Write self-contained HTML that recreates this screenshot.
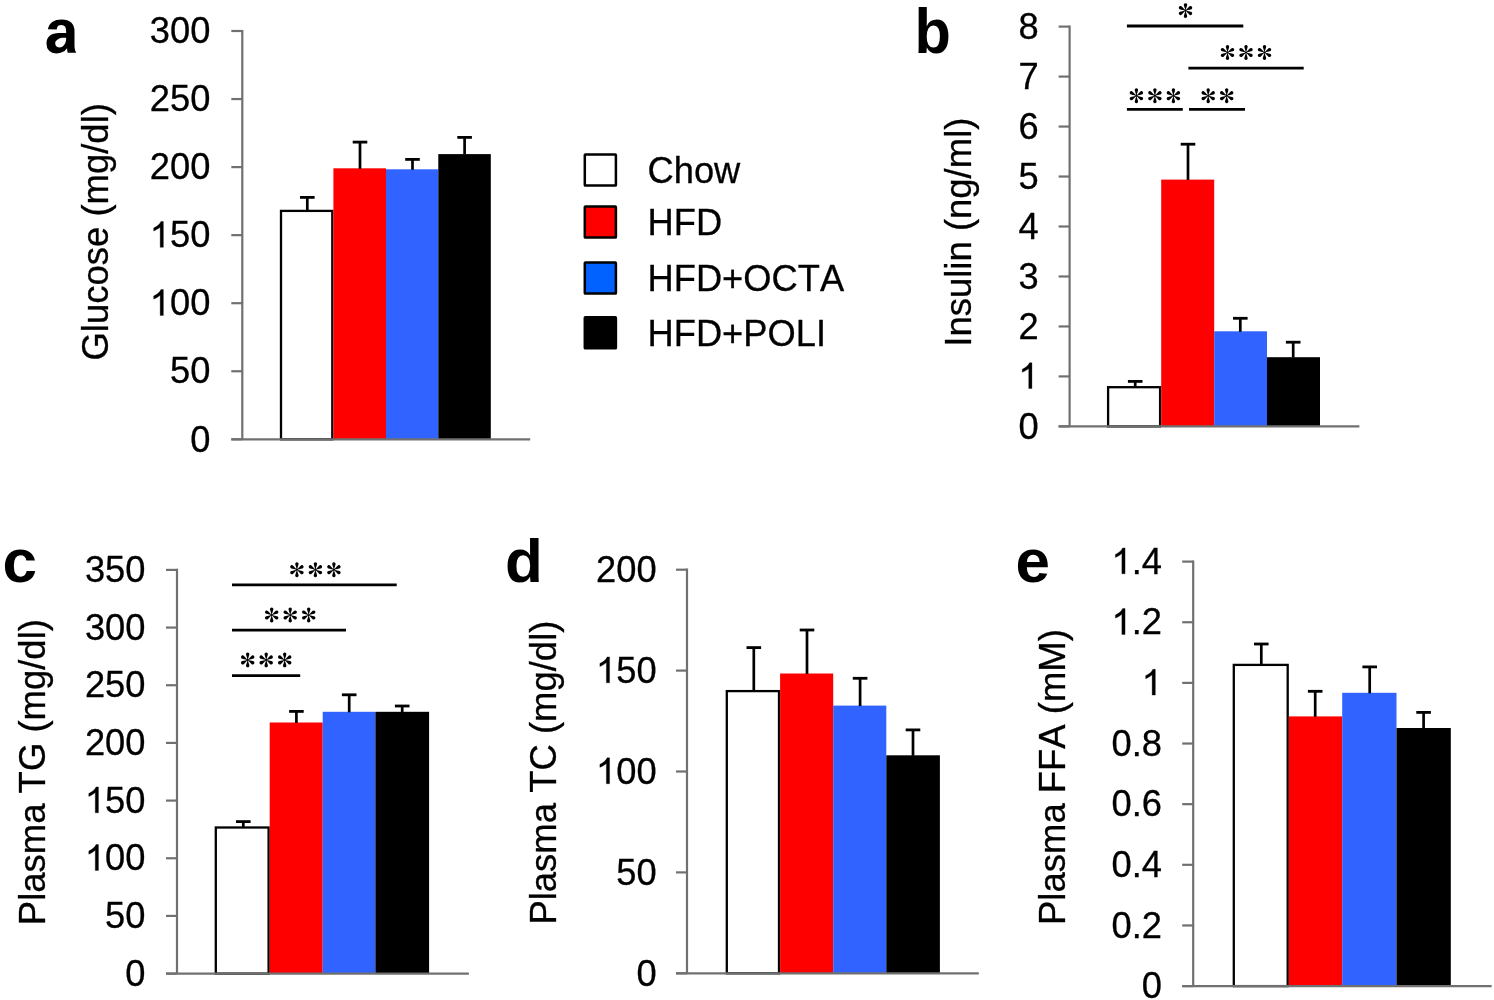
<!DOCTYPE html>
<html><head><meta charset="utf-8"><style>
html,body{margin:0;padding:0;background:#fff;}
svg{display:block;}
text{filter:grayscale(1);}
.t{font-family:"Liberation Sans", sans-serif;font-size:36.3px;fill:#000;stroke:#000;stroke-width:0.3px;font-kerning:none;}
.L{font-family:"Liberation Sans", sans-serif;font-size:62px;font-weight:bold;fill:#000;}
</style></head><body>
<svg width="1494" height="1000" viewBox="0 0 1494 1000">
<defs>
<g id="ast">
<path id="pet" d="M0,0 L-1.6,-5.2 A1.7,1.7 0 1,1 1.6,-5.2 Z" fill="#000"/>
<use href="#pet" transform="rotate(60)"/>
<use href="#pet" transform="rotate(120)"/>
<use href="#pet" transform="rotate(180)"/>
<use href="#pet" transform="rotate(240)"/>
<use href="#pet" transform="rotate(300)"/>
<circle r="1.1" fill="#000"/>
</g>
</defs>
<rect width="1494" height="1000" fill="#fff"/>
<line x1="242.3" y1="29.9" x2="242.3" y2="439.3" stroke="#707070" stroke-width="2.2"/>
<line x1="231.3" y1="439.30" x2="242.3" y2="439.30" stroke="#707070" stroke-width="2.2"/>
<g transform="translate(210.40,451.50) scale(1,1.035)"><text x="0" y="0" text-anchor="end" class="t" style="font-size:36.3px">0</text></g>
<line x1="231.3" y1="371.25" x2="242.3" y2="371.25" stroke="#707070" stroke-width="2.2"/>
<g transform="translate(210.40,383.45) scale(1,1.035)"><text x="0" y="0" text-anchor="end" class="t" style="font-size:36.3px">50</text></g>
<line x1="231.3" y1="303.20" x2="242.3" y2="303.20" stroke="#707070" stroke-width="2.2"/>
<g transform="translate(210.40,315.40) scale(1,1.035)"><text x="0" y="0" text-anchor="end" class="t" style="font-size:36.3px"> 00</text><path d="M763,0 L583,0 L583,1102 Q518,1043 410,981 Q303,921 217,890 L217,1057 Q372,1127 480,1221 Q589,1314 624,1409 L763,1409 Z" stroke="#000" stroke-width="17" transform="translate(-60.56,0) scale(0.017725,-0.017725)"/></g>
<line x1="231.3" y1="235.15" x2="242.3" y2="235.15" stroke="#707070" stroke-width="2.2"/>
<g transform="translate(210.40,247.35) scale(1,1.035)"><text x="0" y="0" text-anchor="end" class="t" style="font-size:36.3px"> 50</text><path d="M763,0 L583,0 L583,1102 Q518,1043 410,981 Q303,921 217,890 L217,1057 Q372,1127 480,1221 Q589,1314 624,1409 L763,1409 Z" stroke="#000" stroke-width="17" transform="translate(-60.56,0) scale(0.017725,-0.017725)"/></g>
<line x1="231.3" y1="167.10" x2="242.3" y2="167.10" stroke="#707070" stroke-width="2.2"/>
<g transform="translate(210.40,179.30) scale(1,1.035)"><text x="0" y="0" text-anchor="end" class="t" style="font-size:36.3px">200</text></g>
<line x1="231.3" y1="99.05" x2="242.3" y2="99.05" stroke="#707070" stroke-width="2.2"/>
<g transform="translate(210.40,111.25) scale(1,1.035)"><text x="0" y="0" text-anchor="end" class="t" style="font-size:36.3px">250</text></g>
<line x1="231.3" y1="31.00" x2="242.3" y2="31.00" stroke="#707070" stroke-width="2.2"/>
<g transform="translate(210.40,43.20) scale(1,1.035)"><text x="0" y="0" text-anchor="end" class="t" style="font-size:36.3px">300</text></g>
<rect x="281.00" y="210.90" width="51.30" height="228.40" fill="#fff" stroke="#000" stroke-width="2.3"/>
<rect x="333.40" y="168.30" width="52.60" height="271.00" fill="#ff0000"/>
<rect x="386.00" y="169.30" width="52.30" height="270.00" fill="#3063ff"/>
<rect x="438.30" y="154.10" width="52.50" height="285.20" fill="#000"/>
<line x1="307.30" y1="197.40" x2="307.30" y2="211.40" stroke="#000" stroke-width="2.7"/>
<line x1="300.00" y1="197.40" x2="314.60" y2="197.40" stroke="#000" stroke-width="2.8"/>
<line x1="360.00" y1="142.10" x2="360.00" y2="168.80" stroke="#000" stroke-width="2.7"/>
<line x1="352.70" y1="142.10" x2="367.30" y2="142.10" stroke="#000" stroke-width="2.8"/>
<line x1="412.50" y1="159.40" x2="412.50" y2="169.80" stroke="#000" stroke-width="2.7"/>
<line x1="405.20" y1="159.40" x2="419.80" y2="159.40" stroke="#000" stroke-width="2.8"/>
<line x1="464.60" y1="137.40" x2="464.60" y2="154.60" stroke="#000" stroke-width="2.7"/>
<line x1="457.30" y1="137.40" x2="471.90" y2="137.40" stroke="#000" stroke-width="2.8"/>
<line x1="231.3" y1="439.3" x2="530.2" y2="439.3" stroke="#707070" stroke-width="2.2"/>
<text transform="translate(108,103.1) rotate(-90) scale(1.005,1.02)" text-anchor="end" class="t">Glucose (mg/dl)</text>
<path d="M393,-20 Q236,-20 148,65.5 Q60,151 60,306 Q60,474 169.5,562 Q279,650 487,652 L720,656 L720,711 Q720,817 683,868.5 Q646,920 562,920 Q484,920 447.5,884.5 Q411,849 402,767 L109,781 Q136,939 253.5,1020.5 Q371,1102 574,1102 Q779,1102 890,1001 Q1001,900 1001,714 L1001,250 Q1001,140 1025,70 L1062,0 L772,0 Q757,45 752,150 Q631,-20 393,-20 Z M720,501 L576,499 Q478,495 415.5,424 Q353,388 353,328 Q353,251 388.5,213.5 Q424,176 483,176 Q549,176 603.5,212 Q658,248 689,311.5 Q720,375 720,446 Z" transform="translate(44.7,52.8) scale(0.029759,-0.030273)"/>
<line x1="1069.6" y1="25.5" x2="1069.6" y2="426.4" stroke="#707070" stroke-width="2.2"/>
<line x1="1058.6" y1="426.40" x2="1069.6" y2="426.40" stroke="#707070" stroke-width="2.2"/>
<g transform="translate(1038.60,438.60) scale(1,1.035)"><text x="0" y="0" text-anchor="end" class="t" style="font-size:36.3px">0</text></g>
<line x1="1058.6" y1="376.42" x2="1069.6" y2="376.42" stroke="#707070" stroke-width="2.2"/>
<g transform="translate(1038.60,388.62) scale(1,1.035)"><text x="0" y="0" text-anchor="end" class="t" style="font-size:36.3px"> </text><path d="M763,0 L583,0 L583,1102 Q518,1043 410,981 Q303,921 217,890 L217,1057 Q372,1127 480,1221 Q589,1314 624,1409 L763,1409 Z" stroke="#000" stroke-width="17" transform="translate(-20.19,0) scale(0.017725,-0.017725)"/></g>
<line x1="1058.6" y1="326.45" x2="1069.6" y2="326.45" stroke="#707070" stroke-width="2.2"/>
<g transform="translate(1038.60,338.65) scale(1,1.035)"><text x="0" y="0" text-anchor="end" class="t" style="font-size:36.3px">2</text></g>
<line x1="1058.6" y1="276.48" x2="1069.6" y2="276.48" stroke="#707070" stroke-width="2.2"/>
<g transform="translate(1038.60,288.68) scale(1,1.035)"><text x="0" y="0" text-anchor="end" class="t" style="font-size:36.3px">3</text></g>
<line x1="1058.6" y1="226.50" x2="1069.6" y2="226.50" stroke="#707070" stroke-width="2.2"/>
<g transform="translate(1038.60,238.70) scale(1,1.035)"><text x="0" y="0" text-anchor="end" class="t" style="font-size:36.3px">4</text></g>
<line x1="1058.6" y1="176.53" x2="1069.6" y2="176.53" stroke="#707070" stroke-width="2.2"/>
<g transform="translate(1038.60,188.72) scale(1,1.035)"><text x="0" y="0" text-anchor="end" class="t" style="font-size:36.3px">5</text></g>
<line x1="1058.6" y1="126.55" x2="1069.6" y2="126.55" stroke="#707070" stroke-width="2.2"/>
<g transform="translate(1038.60,138.75) scale(1,1.035)"><text x="0" y="0" text-anchor="end" class="t" style="font-size:36.3px">6</text></g>
<line x1="1058.6" y1="76.58" x2="1069.6" y2="76.58" stroke="#707070" stroke-width="2.2"/>
<g transform="translate(1038.60,88.78) scale(1,1.035)"><text x="0" y="0" text-anchor="end" class="t" style="font-size:36.3px">7</text></g>
<line x1="1058.6" y1="26.60" x2="1069.6" y2="26.60" stroke="#707070" stroke-width="2.2"/>
<g transform="translate(1038.60,38.80) scale(1,1.035)"><text x="0" y="0" text-anchor="end" class="t" style="font-size:36.3px">8</text></g>
<rect x="1108.10" y="387.20" width="52.00" height="39.20" fill="#fff" stroke="#000" stroke-width="2.3"/>
<rect x="1161.20" y="179.60" width="53.00" height="246.80" fill="#ff0000"/>
<rect x="1214.20" y="331.30" width="52.80" height="95.10" fill="#3063ff"/>
<rect x="1267.00" y="357.20" width="53.00" height="69.20" fill="#000"/>
<line x1="1135.20" y1="381.40" x2="1135.20" y2="387.70" stroke="#000" stroke-width="2.7"/>
<line x1="1127.90" y1="381.40" x2="1142.50" y2="381.40" stroke="#000" stroke-width="2.8"/>
<line x1="1188.00" y1="144.20" x2="1188.00" y2="180.10" stroke="#000" stroke-width="2.7"/>
<line x1="1180.70" y1="144.20" x2="1195.30" y2="144.20" stroke="#000" stroke-width="2.8"/>
<line x1="1240.30" y1="318.30" x2="1240.30" y2="331.80" stroke="#000" stroke-width="2.7"/>
<line x1="1233.00" y1="318.30" x2="1247.60" y2="318.30" stroke="#000" stroke-width="2.8"/>
<line x1="1293.20" y1="342.20" x2="1293.20" y2="357.70" stroke="#000" stroke-width="2.7"/>
<line x1="1285.90" y1="342.20" x2="1300.50" y2="342.20" stroke="#000" stroke-width="2.8"/>
<line x1="1058.6" y1="426.4" x2="1359.4" y2="426.4" stroke="#707070" stroke-width="2.2"/>
<text transform="translate(971,117.6) rotate(-90) scale(1.005,1.02)" text-anchor="end" class="t">Insulin (ng/ml)</text>
<text transform="translate(914.5,52.5) scale(0.96,1)" class="L">b</text>
<line x1="1126.9" y1="26" x2="1243.3" y2="26" stroke="#000" stroke-width="2.8"/>
<use href="#ast" x="1185.50" y="10.60"/>
<line x1="1188.4" y1="68.2" x2="1303.7" y2="68.2" stroke="#000" stroke-width="2.8"/>
<use href="#ast" x="1227.50" y="52.50"/>
<use href="#ast" x="1246.00" y="52.50"/>
<use href="#ast" x="1264.50" y="52.50"/>
<line x1="1126.9" y1="109.4" x2="1182.8" y2="109.4" stroke="#000" stroke-width="2.8"/>
<use href="#ast" x="1136.40" y="95.70"/>
<use href="#ast" x="1154.90" y="95.70"/>
<use href="#ast" x="1173.40" y="95.70"/>
<line x1="1189" y1="109.4" x2="1245" y2="109.4" stroke="#000" stroke-width="2.8"/>
<use href="#ast" x="1208.20" y="95.70"/>
<use href="#ast" x="1226.70" y="95.70"/>
<line x1="177" y1="568.8" x2="177" y2="973.6" stroke="#707070" stroke-width="2.2"/>
<line x1="166" y1="973.60" x2="177" y2="973.60" stroke="#707070" stroke-width="2.2"/>
<g transform="translate(145.50,985.80) scale(1,1.035)"><text x="0" y="0" text-anchor="end" class="t" style="font-size:36.3px">0</text></g>
<line x1="166" y1="915.93" x2="177" y2="915.93" stroke="#707070" stroke-width="2.2"/>
<g transform="translate(145.50,928.13) scale(1,1.035)"><text x="0" y="0" text-anchor="end" class="t" style="font-size:36.3px">50</text></g>
<line x1="166" y1="858.26" x2="177" y2="858.26" stroke="#707070" stroke-width="2.2"/>
<g transform="translate(145.50,870.46) scale(1,1.035)"><text x="0" y="0" text-anchor="end" class="t" style="font-size:36.3px"> 00</text><path d="M763,0 L583,0 L583,1102 Q518,1043 410,981 Q303,921 217,890 L217,1057 Q372,1127 480,1221 Q589,1314 624,1409 L763,1409 Z" stroke="#000" stroke-width="17" transform="translate(-60.56,0) scale(0.017725,-0.017725)"/></g>
<line x1="166" y1="800.59" x2="177" y2="800.59" stroke="#707070" stroke-width="2.2"/>
<g transform="translate(145.50,812.79) scale(1,1.035)"><text x="0" y="0" text-anchor="end" class="t" style="font-size:36.3px"> 50</text><path d="M763,0 L583,0 L583,1102 Q518,1043 410,981 Q303,921 217,890 L217,1057 Q372,1127 480,1221 Q589,1314 624,1409 L763,1409 Z" stroke="#000" stroke-width="17" transform="translate(-60.56,0) scale(0.017725,-0.017725)"/></g>
<line x1="166" y1="742.91" x2="177" y2="742.91" stroke="#707070" stroke-width="2.2"/>
<g transform="translate(145.50,755.11) scale(1,1.035)"><text x="0" y="0" text-anchor="end" class="t" style="font-size:36.3px">200</text></g>
<line x1="166" y1="685.24" x2="177" y2="685.24" stroke="#707070" stroke-width="2.2"/>
<g transform="translate(145.50,697.44) scale(1,1.035)"><text x="0" y="0" text-anchor="end" class="t" style="font-size:36.3px">250</text></g>
<line x1="166" y1="627.57" x2="177" y2="627.57" stroke="#707070" stroke-width="2.2"/>
<g transform="translate(145.50,639.77) scale(1,1.035)"><text x="0" y="0" text-anchor="end" class="t" style="font-size:36.3px">300</text></g>
<line x1="166" y1="569.90" x2="177" y2="569.90" stroke="#707070" stroke-width="2.2"/>
<g transform="translate(145.50,582.10) scale(1,1.035)"><text x="0" y="0" text-anchor="end" class="t" style="font-size:36.3px">350</text></g>
<rect x="215.80" y="827.50" width="52.80" height="146.10" fill="#fff" stroke="#000" stroke-width="2.3"/>
<rect x="269.70" y="722.50" width="53.00" height="251.10" fill="#ff0000"/>
<rect x="322.70" y="711.80" width="52.70" height="261.80" fill="#3063ff"/>
<rect x="375.40" y="711.80" width="53.70" height="261.80" fill="#000"/>
<line x1="243.30" y1="821.60" x2="243.30" y2="828.00" stroke="#000" stroke-width="2.7"/>
<line x1="236.00" y1="821.60" x2="250.60" y2="821.60" stroke="#000" stroke-width="2.8"/>
<line x1="296.40" y1="711.40" x2="296.40" y2="723.00" stroke="#000" stroke-width="2.7"/>
<line x1="289.10" y1="711.40" x2="303.70" y2="711.40" stroke="#000" stroke-width="2.8"/>
<line x1="349.20" y1="694.80" x2="349.20" y2="712.30" stroke="#000" stroke-width="2.7"/>
<line x1="341.90" y1="694.80" x2="356.50" y2="694.80" stroke="#000" stroke-width="2.8"/>
<line x1="402.20" y1="706.00" x2="402.20" y2="712.30" stroke="#000" stroke-width="2.7"/>
<line x1="394.90" y1="706.00" x2="409.50" y2="706.00" stroke="#000" stroke-width="2.8"/>
<line x1="166" y1="973.6" x2="468.9" y2="973.6" stroke="#707070" stroke-width="2.2"/>
<text transform="translate(44.5,619.1) rotate(-90) scale(1.005,1.02)" text-anchor="end" class="t">Plasma TG (mg/dl)</text>
<text transform="translate(2.5,581.5) scale(1.0,1)" class="L">c</text>
<line x1="232" y1="584.9" x2="396.7" y2="584.9" stroke="#000" stroke-width="2.8"/>
<use href="#ast" x="296.90" y="569.70"/>
<use href="#ast" x="315.40" y="569.70"/>
<use href="#ast" x="333.90" y="569.70"/>
<line x1="232" y1="630.2" x2="346" y2="630.2" stroke="#000" stroke-width="2.8"/>
<use href="#ast" x="271.70" y="615.00"/>
<use href="#ast" x="290.20" y="615.00"/>
<use href="#ast" x="308.70" y="615.00"/>
<line x1="232" y1="675.7" x2="300.2" y2="675.7" stroke="#000" stroke-width="2.8"/>
<use href="#ast" x="247.70" y="659.90"/>
<use href="#ast" x="266.20" y="659.90"/>
<use href="#ast" x="284.70" y="659.90"/>
<line x1="687" y1="568.6" x2="687" y2="973.3" stroke="#707070" stroke-width="2.2"/>
<line x1="676" y1="973.30" x2="687" y2="973.30" stroke="#707070" stroke-width="2.2"/>
<g transform="translate(656.60,985.50) scale(1,1.035)"><text x="0" y="0" text-anchor="end" class="t" style="font-size:36.3px">0</text></g>
<line x1="676" y1="872.40" x2="687" y2="872.40" stroke="#707070" stroke-width="2.2"/>
<g transform="translate(656.60,884.60) scale(1,1.035)"><text x="0" y="0" text-anchor="end" class="t" style="font-size:36.3px">50</text></g>
<line x1="676" y1="771.50" x2="687" y2="771.50" stroke="#707070" stroke-width="2.2"/>
<g transform="translate(656.60,783.70) scale(1,1.035)"><text x="0" y="0" text-anchor="end" class="t" style="font-size:36.3px"> 00</text><path d="M763,0 L583,0 L583,1102 Q518,1043 410,981 Q303,921 217,890 L217,1057 Q372,1127 480,1221 Q589,1314 624,1409 L763,1409 Z" stroke="#000" stroke-width="17" transform="translate(-60.56,0) scale(0.017725,-0.017725)"/></g>
<line x1="676" y1="670.60" x2="687" y2="670.60" stroke="#707070" stroke-width="2.2"/>
<g transform="translate(656.60,682.80) scale(1,1.035)"><text x="0" y="0" text-anchor="end" class="t" style="font-size:36.3px"> 50</text><path d="M763,0 L583,0 L583,1102 Q518,1043 410,981 Q303,921 217,890 L217,1057 Q372,1127 480,1221 Q589,1314 624,1409 L763,1409 Z" stroke="#000" stroke-width="17" transform="translate(-60.56,0) scale(0.017725,-0.017725)"/></g>
<line x1="676" y1="569.70" x2="687" y2="569.70" stroke="#707070" stroke-width="2.2"/>
<g transform="translate(656.60,581.90) scale(1,1.035)"><text x="0" y="0" text-anchor="end" class="t" style="font-size:36.3px">200</text></g>
<rect x="726.80" y="691.10" width="52.20" height="282.20" fill="#fff" stroke="#000" stroke-width="2.3"/>
<rect x="780.10" y="673.50" width="53.10" height="299.80" fill="#ff0000"/>
<rect x="833.20" y="705.60" width="53.10" height="267.70" fill="#3063ff"/>
<rect x="886.30" y="755.30" width="53.60" height="218.00" fill="#000"/>
<line x1="753.80" y1="647.60" x2="753.80" y2="691.60" stroke="#000" stroke-width="2.7"/>
<line x1="746.50" y1="647.60" x2="761.10" y2="647.60" stroke="#000" stroke-width="2.8"/>
<line x1="807.00" y1="630.00" x2="807.00" y2="674.00" stroke="#000" stroke-width="2.7"/>
<line x1="799.70" y1="630.00" x2="814.30" y2="630.00" stroke="#000" stroke-width="2.8"/>
<line x1="860.10" y1="678.30" x2="860.10" y2="706.10" stroke="#000" stroke-width="2.7"/>
<line x1="852.80" y1="678.30" x2="867.40" y2="678.30" stroke="#000" stroke-width="2.8"/>
<line x1="913.00" y1="729.90" x2="913.00" y2="755.80" stroke="#000" stroke-width="2.7"/>
<line x1="905.70" y1="729.90" x2="920.30" y2="729.90" stroke="#000" stroke-width="2.8"/>
<line x1="676" y1="973.3" x2="978.8" y2="973.3" stroke="#707070" stroke-width="2.2"/>
<text transform="translate(556,620.6) rotate(-90) scale(1.005,1.02)" text-anchor="end" class="t">Plasma TC (mg/dl)</text>
<text transform="translate(505,581.5) scale(1.0,1)" class="L">d</text>
<line x1="1193.2" y1="560.5" x2="1193.2" y2="986.1" stroke="#707070" stroke-width="2.2"/>
<line x1="1182.2" y1="986.10" x2="1193.2" y2="986.10" stroke="#707070" stroke-width="2.2"/>
<g transform="translate(1162.00,998.30) scale(1,1.035)"><text x="0" y="0" text-anchor="end" class="t" style="font-size:36.3px">0</text></g>
<line x1="1182.2" y1="925.46" x2="1193.2" y2="925.46" stroke="#707070" stroke-width="2.2"/>
<g transform="translate(1162.00,937.66) scale(1,1.035)"><text x="0" y="0" text-anchor="end" class="t" style="font-size:36.3px">0.2</text></g>
<line x1="1182.2" y1="864.81" x2="1193.2" y2="864.81" stroke="#707070" stroke-width="2.2"/>
<g transform="translate(1162.00,877.01) scale(1,1.035)"><text x="0" y="0" text-anchor="end" class="t" style="font-size:36.3px">0.4</text></g>
<line x1="1182.2" y1="804.17" x2="1193.2" y2="804.17" stroke="#707070" stroke-width="2.2"/>
<g transform="translate(1162.00,816.37) scale(1,1.035)"><text x="0" y="0" text-anchor="end" class="t" style="font-size:36.3px">0.6</text></g>
<line x1="1182.2" y1="743.53" x2="1193.2" y2="743.53" stroke="#707070" stroke-width="2.2"/>
<g transform="translate(1162.00,755.73) scale(1,1.035)"><text x="0" y="0" text-anchor="end" class="t" style="font-size:36.3px">0.8</text></g>
<line x1="1182.2" y1="682.89" x2="1193.2" y2="682.89" stroke="#707070" stroke-width="2.2"/>
<g transform="translate(1162.00,695.09) scale(1,1.035)"><text x="0" y="0" text-anchor="end" class="t" style="font-size:36.3px"> </text><path d="M763,0 L583,0 L583,1102 Q518,1043 410,981 Q303,921 217,890 L217,1057 Q372,1127 480,1221 Q589,1314 624,1409 L763,1409 Z" stroke="#000" stroke-width="17" transform="translate(-20.19,0) scale(0.017725,-0.017725)"/></g>
<line x1="1182.2" y1="622.24" x2="1193.2" y2="622.24" stroke="#707070" stroke-width="2.2"/>
<g transform="translate(1162.00,634.44) scale(1,1.035)"><text x="0" y="0" text-anchor="end" class="t" style="font-size:36.3px"> .2</text><path d="M763,0 L583,0 L583,1102 Q518,1043 410,981 Q303,921 217,890 L217,1057 Q372,1127 480,1221 Q589,1314 624,1409 L763,1409 Z" stroke="#000" stroke-width="17" transform="translate(-50.46,0) scale(0.017725,-0.017725)"/></g>
<line x1="1182.2" y1="561.60" x2="1193.2" y2="561.60" stroke="#707070" stroke-width="2.2"/>
<g transform="translate(1162.00,573.80) scale(1,1.035)"><text x="0" y="0" text-anchor="end" class="t" style="font-size:36.3px"> .4</text><path d="M763,0 L583,0 L583,1102 Q518,1043 410,981 Q303,921 217,890 L217,1057 Q372,1127 480,1221 Q589,1314 624,1409 L763,1409 Z" stroke="#000" stroke-width="17" transform="translate(-50.46,0) scale(0.017725,-0.017725)"/></g>
<rect x="1233.80" y="664.90" width="53.90" height="321.20" fill="#fff" stroke="#000" stroke-width="2.3"/>
<rect x="1288.80" y="716.40" width="53.40" height="269.70" fill="#ff0000"/>
<rect x="1342.20" y="692.80" width="54.30" height="293.30" fill="#3063ff"/>
<rect x="1396.50" y="728.00" width="54.30" height="258.10" fill="#000"/>
<line x1="1261.30" y1="644.00" x2="1261.30" y2="665.40" stroke="#000" stroke-width="2.7"/>
<line x1="1254.00" y1="644.00" x2="1268.60" y2="644.00" stroke="#000" stroke-width="2.8"/>
<line x1="1315.20" y1="691.30" x2="1315.20" y2="716.90" stroke="#000" stroke-width="2.7"/>
<line x1="1307.90" y1="691.30" x2="1322.50" y2="691.30" stroke="#000" stroke-width="2.8"/>
<line x1="1369.70" y1="666.90" x2="1369.70" y2="693.30" stroke="#000" stroke-width="2.7"/>
<line x1="1362.40" y1="666.90" x2="1377.00" y2="666.90" stroke="#000" stroke-width="2.8"/>
<line x1="1423.60" y1="712.40" x2="1423.60" y2="728.50" stroke="#000" stroke-width="2.7"/>
<line x1="1416.30" y1="712.40" x2="1430.90" y2="712.40" stroke="#000" stroke-width="2.8"/>
<line x1="1182.2" y1="986.1" x2="1491.6" y2="986.1" stroke="#707070" stroke-width="2.2"/>
<text transform="translate(1065,629.1) rotate(-90) scale(1.005,1.02)" text-anchor="end" class="t">Plasma FFA (mM)</text>
<text transform="translate(1015.5,581.5) scale(1.0,1)" class="L">e</text>
<rect x="584.80" y="154.40" width="31.1" height="31.1" rx="0.6" fill="#fff" stroke="#000" stroke-width="2.5"/>
<text transform="translate(647.5,182.5) scale(1,1.035)" class="t">Chow</text>
<rect x="584.80" y="206.50" width="31.1" height="31.1" rx="0.6" fill="#ff0000" stroke="#000" stroke-width="2.5"/>
<text transform="translate(647.5,235) scale(1,1.035)" class="t">HFD</text>
<rect x="584.80" y="262.50" width="31.1" height="31.1" rx="0.6" fill="#0262ff" stroke="#000" stroke-width="2.5"/>
<text transform="translate(647.5,290.9) scale(1,1.035)" class="t">HFD+OCTA</text>
<rect x="584.80" y="317.20" width="31.1" height="31.1" rx="0.6" fill="#000" stroke="#000" stroke-width="2.5"/>
<text transform="translate(647.5,345.7) scale(1,1.035)" class="t">HFD+POLI</text>
</svg>
</body></html>
